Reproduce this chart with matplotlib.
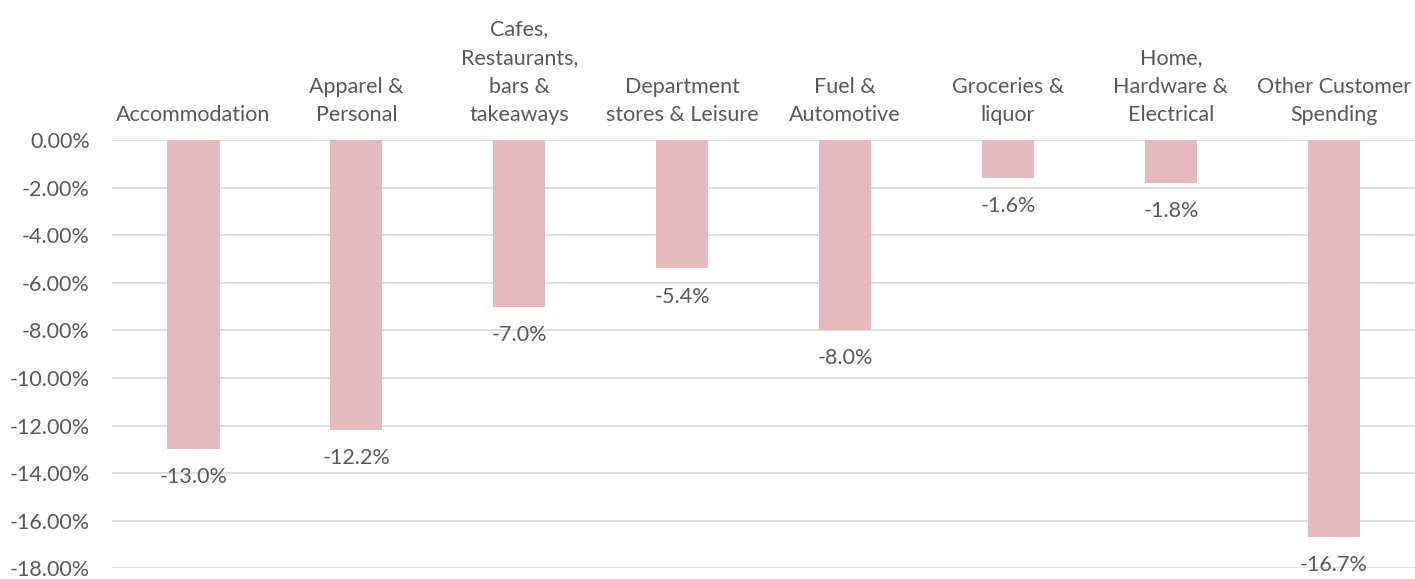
import matplotlib.pyplot as plt
from matplotlib.ticker import FuncFormatter
from matplotlib.transforms import blended_transform_factory

categories = ["Accommodation", "Apparel &\nPersonal", "Cafes,\nRestaurants,\nbars &\ntakeaways",
              "Department\nstores & Leisure", "Fuel &\nAutomotive", "Groceries &\nliquor",
              "Home,\nHardware &\nElectrical", "Other Customer\nSpending"]
values = [-13.0, -12.2, -7.0, -5.4, -8.0, -1.6, -1.8, -16.7]
yticks = [0, -2, -4, -6, -8, -10, -12, -14, -16, -18]

bar_color = "#E4B9C0"
text_color = "#595959"
grid_color = "#D9D9D9"

plt.rcParams['font.family'] = ['Lato', 'DejaVu Sans']

fig = plt.figure(figsize=(14.15, 5.79), dpi=100)
ax = fig.add_axes([0.0792, 0.0185, 0.921, 0.7397])

x = list(range(len(categories)))
ax.bar(x, values, width=0.32, color=bar_color, zorder=2)

ax.set_xlim(-0.5, len(categories) - 0.5)
ax.set_ylim(-18, 0)
ax.set_yticks(yticks)
ax.yaxis.set_major_formatter(FuncFormatter(lambda v, p: f"{v:.2f}%"))
ax.tick_params(axis='y', length=0, labelsize=15.5, labelcolor=text_color, pad=16)
ax.set_xticks([])
ax.grid(axis='y', color=grid_color, linewidth=1.2, zorder=0)
for s in ax.spines.values():
    s.set_visible(False)

# data labels under each bar
for xi, v in zip(x, values):
    ax.annotate(f"{v:.1f}%", (xi, v), xytext=(0, -13), textcoords='offset points',
                ha='center', va='top', fontsize=15.5, color=text_color)

# category labels above the plot
trans = blended_transform_factory(ax.transData, ax.transAxes)
for xi, c in zip(x, categories):
    ax.text(xi, 1.035, c, transform=trans, ha='center', va='bottom', fontsize=15.5,
            color=text_color, linespacing=1.53, multialignment='center')

fig.savefig("out.png", dpi=100)
